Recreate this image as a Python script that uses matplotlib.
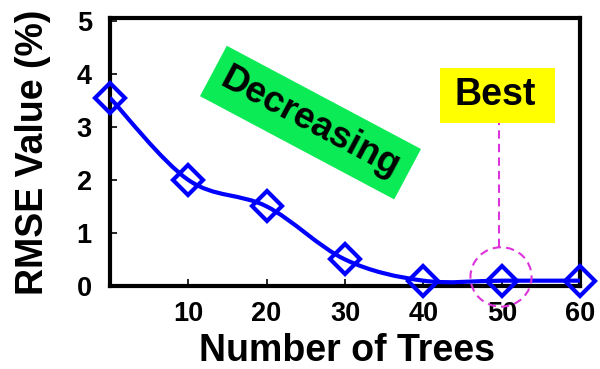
import numpy as np
import matplotlib
matplotlib.use("Agg")
import matplotlib.pyplot as plt
from matplotlib.path import Path
from matplotlib.patches import PathPatch, Ellipse, Rectangle

plt.rcParams["font.family"] = ["Liberation Sans", "DejaVu Sans"]
plt.rcParams["font.weight"] = "bold"

trees = [0, 10, 20, 30, 40, 50, 60]
rmse = [3.55, 2.0, 1.5, 0.5, 0.1, 0.1, 0.1]
x_ticks = [10, 20, 30, 40, 50, 60]
y_ticks = [0, 1, 2, 3, 4, 5]

BLUE = "#0000FF"
MAGENTA = "#DD33DD"


def smooth_path(xs, ys):
    # Catmull-Rom style bezier through the points (like a spreadsheet "smoothed line")
    pts = np.column_stack([xs, ys]).astype(float)
    verts = [pts[0]]
    codes = [Path.MOVETO]
    n = len(pts)
    for i in range(n - 1):
        p0 = pts[i - 1] if i > 0 else pts[i]
        p1 = pts[i]
        p2 = pts[i + 1]
        p3 = pts[i + 2] if i + 2 < n else pts[i + 1]
        c1 = p1 + (p2 - p0) / 6.0
        c2 = p2 - (p3 - p1) / 6.0
        verts += [c1, c2, p2]
        codes += [Path.CURVE4] * 3
    return Path(verts, codes)


fig = plt.figure(figsize=(6, 3.69), dpi=100)
ax = fig.add_axes([0.183, 0.225, 0.784, 0.726])

ax.add_patch(PathPatch(smooth_path(trees, rmse), fill=False,
                       edgecolor=BLUE, lw=3, zorder=3))
ax.plot(trees, rmse, ls="none", marker="D", markersize=15,
        markerfacecolor="none", markeredgecolor=BLUE, markeredgewidth=3,
        clip_on=False, zorder=4)

ax.set_xlim(0, 60)
ax.set_ylim(0, 5.05)
ax.set_xticks(x_ticks)
ax.set_yticks(y_ticks)
ax.tick_params(direction="in", length=5, width=1.2, labelsize=19.5)
ax.tick_params(axis="x", pad=11)
ax.tick_params(axis="y", pad=13)
for lab in ax.get_xticklabels() + ax.get_yticklabels():
    lab.set_fontweight("bold")
for sp in ax.spines.values():
    sp.set_linewidth(3)

ax.set_xlabel("Number of Trees", fontsize=27, fontweight="bold")
ax.set_ylabel("RMSE Value (%)", fontsize=27, fontweight="bold")
ax.xaxis.set_label_coords(0.504, -0.175)
ax.yaxis.set_label_coords(-0.125, 0.5)

# "Decreasing" label
ax.text(25.6, 3.08, "Decreasing", fontsize=26.5, fontweight="bold", rotation=-28,
        ha="center", va="center", rotation_mode="anchor",
        bbox=dict(boxstyle="square,pad=0.3", facecolor="#0AEB55", edgecolor="none"))

# "Best" callout
ax.add_patch(Rectangle((42.1, 3.08), 14.7, 1.03, facecolor="#FFFF00",
                       edgecolor="none", zorder=2))
ax.text(49.2, 3.6, "Best", fontsize=27, fontweight="bold", ha="center",
        va="center", zorder=3)
ax.plot([49.6, 49.6], [0.74, 3.08], color=MAGENTA, lw=1.5, ls=(0, (4, 2.5)))
ax.add_patch(Ellipse((49.9, 0.17), 7.8, 1.12, fill=False, edgecolor=MAGENTA,
                     lw=1.5, ls=(0, (4, 2.5)), clip_on=False, zorder=5))

fig.savefig("out.png", dpi=100)
